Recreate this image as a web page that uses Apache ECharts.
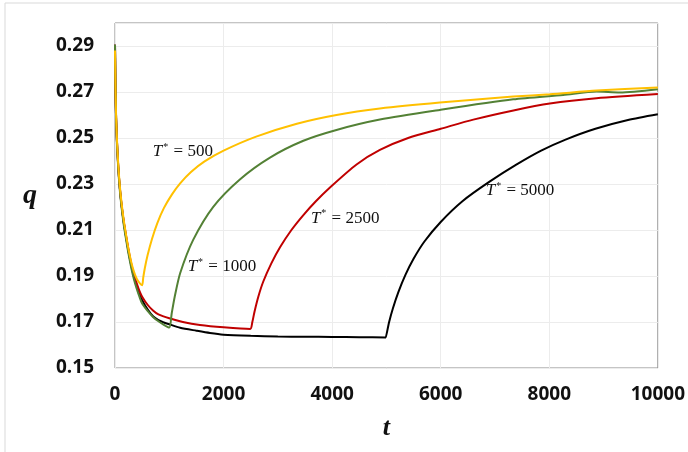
<!DOCTYPE html>
<html>
<head>
<meta charset="utf-8">
<script src="https://cdn.jsdelivr.net/npm/echarts@6/dist/echarts.min.js"></script>
<style>html,body{margin:0;padding:0;background:#fff}#c{width:688px;height:452px}</style>
</head>
<body>
<div id="c"></div>
<script>
// ---- data ----
const xTicks = [0, 2000, 4000, 6000, 8000, 10000];
const yTicks = [0.15, 0.17, 0.19, 0.21, 0.23, 0.25, 0.27, 0.29];

// T* = 5000 (black)
const tBlack = [0,5,10,20,35,60,90,120,160,200,250,300,350,400,450,500,600,700,800,900,1000,1200,1500,1750,2000,2500,3000,3500,4000,4500,4990,5000,
  5050,5120,5220,5350,5500,5700,6000,6400,6900,7400,7850,8300,8850,9450,10000];
const qBlack = [0.2905,0.280,0.270,0.259,0.249,0.2375,0.228,0.221,0.2135,0.2075,0.2005,0.1945,0.1895,0.1855,0.182,0.1795,0.1755,0.1725,0.1708,0.1698,0.1690,0.1675,0.1662,0.1652,0.1645,0.1640,0.1637,0.1636,0.1635,0.1634,0.1633,0.1633,
  0.1700,0.1760,0.1830,0.1905,0.1975,0.2050,0.2135,0.2225,0.2310,0.2385,0.2445,0.2493,0.2540,0.2578,0.2603];

// T* = 2500 (red)
const tRed = [0,5,10,20,35,60,90,120,160,200,250,300,350,400,450,500,600,700,800,1000,1250,1565,2000,2490,
  2530,2570,2640,2730,2880,3040,3250,3470,3700,3960,4450,4880,5400,6000,6600,7340,8010,8870,10000];
const qRed = [0.2905,0.280,0.270,0.259,0.249,0.2375,0.228,0.221,0.2138,0.2080,0.2012,0.1952,0.1905,0.1868,0.1835,0.1810,0.1775,0.1750,0.1733,0.1716,0.1700,0.1687,0.1677,0.1670,
  0.1700,0.1745,0.1810,0.1875,0.1955,0.2025,0.2100,0.2165,0.2225,0.2285,0.2385,0.2448,0.2500,0.2540,0.2580,0.2620,0.2650,0.2673,0.2691];

// T* = 1000 (green)
const tGreen = [0,5,10,20,35,60,90,120,160,200,250,300,350,400,450,500,600,700,800,900,1000,
  1045,1100,1200,1440,1810,2300,2855,3470,4080,4880,5985,7336,8256,8870,9300,10000];
const qGreen = [0.2905,0.280,0.270,0.258,0.248,0.2365,0.227,0.220,0.2125,0.2065,0.1995,0.1935,0.1885,0.1845,0.1810,0.1780,0.1748,0.1722,0.1703,0.1688,0.1676,
  0.1738,0.1810,0.1912,0.2057,0.2201,0.2320,0.2415,0.2488,0.2535,0.2580,0.2622,0.2668,0.2687,0.2702,0.2698,0.2712];

// T* = 500 (yellow)
const tYellow = [0,5,10,20,35,60,90,120,160,200,250,300,350,400,450,500,
  520,550,600,680,780,900,1050,1200,1400,1650,2000,2600,3350,4080,4880,5985,7336,8011,8870,10000];
const qYellow = [0.288,0.280,0.271,0.260,0.250,0.2385,0.229,0.222,0.2145,0.2085,0.2015,0.1960,0.1918,0.1888,0.1870,0.1860,
  0.1893,0.1935,0.1990,0.2060,0.2130,0.2195,0.2255,0.2303,0.2352,0.2398,0.2445,0.2506,0.2562,0.2600,0.2628,0.2654,0.2680,0.2690,0.2706,0.2720];

const labelTexts = ['500', '1000', '2500', '5000'];

function zip(t, q) { return t.map((v, i) => [v, q[i]]); }

const labelRich = {
  i: { fontFamily: 'Liberation Serif', fontStyle: 'italic', fontSize: 17, color: '#111' },
  s: { fontFamily: 'Liberation Serif', fontSize: 10, color: '#111', padding: [0, 1, 9, 1] },
  n: { fontFamily: 'Liberation Serif', fontSize: 17, color: '#111' }
};
function annot(coord, txt) {
  return {
    symbol: 'circle', symbolSize: 1, itemStyle: { color: 'rgba(0,0,0,0)' },
    data: [{ coord: coord }],
    label: { show: true, position: 'inside', formatter: '{i|T}{s|*}{n| = ' + txt + '}', rich: labelRich }
  };
}
const lineCommon = { type: 'line', showSymbol: false, smooth: 0.25 };

const chart = echarts.init(document.getElementById('c'));
chart.setOption({
  animation: false,
  backgroundColor: '#fff',
  graphic: [{ type: 'rect', shape: { x: 5, y: 3, width: 720, height: 480 }, style: { fill: 'none', stroke: '#d9d9d9', lineWidth: 1 }, silent: true }],
  grid: { left: 115, right: 30, top: 23, bottom: 84, show: true, borderColor: '#8a8a8a', borderWidth: 1, backgroundColor: 'transparent' },
  xAxis: {
    type: 'value', min: xTicks[0], max: xTicks[xTicks.length - 1], interval: 2000,
    axisLine: { show: false }, axisTick: { show: false },
    splitLine: { show: true, lineStyle: { color: '#ececec', width: 1 } },
    axisLabel: { margin: 17, fontFamily: 'Open Sans', fontWeight: 'bold', fontSize: 19, color: '#111', formatter: v => String(v) },
    name: 't', nameLocation: 'middle', nameGap: 47,
    nameTextStyle: { fontFamily: 'Liberation Serif', fontStyle: 'italic', fontWeight: 'bold', fontSize: 26, color: '#111' }
  },
  yAxis: {
    type: 'value', min: yTicks[0], max: 0.30, interval: 0.02,
    axisLine: { show: false }, axisTick: { show: false },
    splitLine: { show: true, lineStyle: { color: '#ececec', width: 1 } },
    axisLabel: { margin: 21, fontFamily: 'Open Sans', fontWeight: 'bold', fontSize: 19, color: '#111',
      formatter: v => (v > 0.295 ? '' : v.toFixed(2)) },
    name: 'q', nameLocation: 'middle', nameGap: 78, nameRotate: 0,
    nameTextStyle: { fontFamily: 'Liberation Serif', fontStyle: 'italic', fontWeight: 'bold', fontSize: 28, color: '#111' }
  },
  series: [
    Object.assign({}, lineCommon, { data: zip(tBlack, qBlack), lineStyle: { color: '#000000', width: 2 }, markPoint: annot([7460, 0.2270], labelTexts[3]) }),
    Object.assign({}, lineCommon, { data: zip(tRed, qRed), lineStyle: { color: '#c00000', width: 2 }, markPoint: annot([4240, 0.2152], labelTexts[2]) }),
    Object.assign({}, lineCommon, { data: zip(tGreen, qGreen), lineStyle: { color: '#538135', width: 2 }, markPoint: annot([1970, 0.1939], labelTexts[1]) }),
    Object.assign({}, lineCommon, { data: zip(tYellow, qYellow), lineStyle: { color: '#ffc000', width: 2 }, markPoint: annot([1250, 0.2439], labelTexts[0]) })
  ]
});
</script>
</body>
</html>
